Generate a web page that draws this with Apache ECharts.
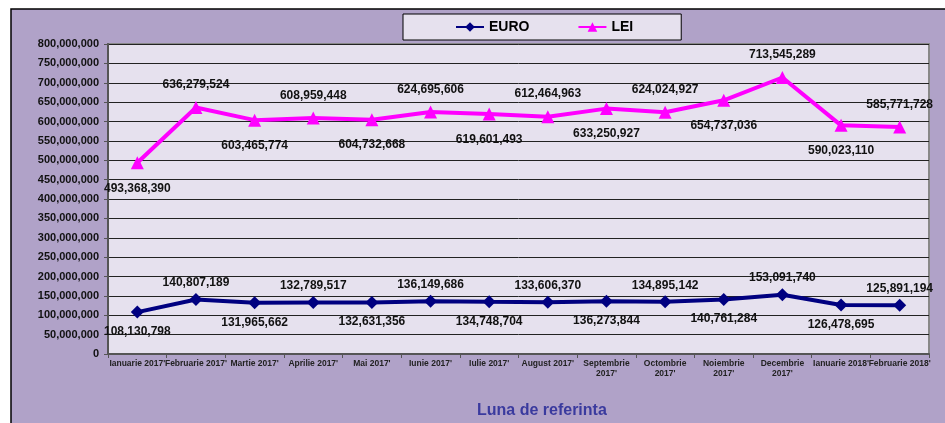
<!DOCTYPE html>
<html>
<head>
<meta charset="utf-8">
<script src="https://cdn.jsdelivr.net/npm/echarts@6/dist/echarts.min.js"></script>
<style>
  html, body { margin: 0; padding: 0; background: #fff; }
  #chart { width: 945px; height: 423px; }
</style>
</head>
<body>
<div id="chart"></div>
<script>
// luna de referinta
var months = ["Ianuarie 2017'", "Februarie 2017'", "Martie 2017'", "Aprilie 2017'", "Mai 2017'",
    "Iunie 2017'", "Iulie 2017'", "August 2017'", "Septembrie\n2017'", "Octombrie\n2017'",
    "Noiembrie\n2017'", "Decembrie\n2017'", "Ianuarie 2018'", "Februarie 2018'"];

var euro = [108130798, 140807189, 131965662, 132789517, 132631356, 136149686, 134748704,
    133606370, 136273844, 134895142, 140761284, 153091740, 126478695, 125891194];

var lei = [493368390, 636279524, 603465774, 608959448, 604732668, 624695606, 619601493,
    612464963, 633250927, 624024927, 654737036, 713545289, 590023110, 585771728];

function fmt(v) {
    return Number(v).toLocaleString('en-US');
}

// etichete alternate: sub punct / deasupra punctului
function withLabels(values, distTop, distBottom) {
    return values.map(function (v, i) {
        var below = i % 2 === 0;
        return {
            value: v,
            label: { position: below ? 'bottom' : 'top', distance: below ? distBottom : distTop }
        };
    });
}

var chart = echarts.init(document.getElementById('chart'));

var labelStyle = {
    show: true,
    color: '#111',
    fontFamily: 'Arial, "Liberation Sans"',
    fontWeight: 'bold',
    fontSize: 12,
    formatter: function (p) { return fmt(p.value); }
};

option = {
    backgroundColor: '#fff',
    animation: false,
    graphic: [{
        type: 'rect',
        z: -10,
        shape: { x: 11, y: 9, width: 940, height: 420 },
        style: { fill: '#B0A2C8', stroke: '#000', lineWidth: 1.5 }
    }, {
        type: 'text',
        left: 477,
        top: 403,
        style: {
            text: 'Luna de referinta',
            fill: '#3A3A9E',
            font: 'bold 16px Arial, "Liberation Sans"'
        }
    }],
    legend: {
        left: 403,
        top: 14,
        padding: [6, 48, 6, 52],
        itemGap: 48,
        itemWidth: 28,
        itemHeight: 12,
        backgroundColor: '#E6E1EE',
        borderColor: '#000',
        borderWidth: 1,
        textStyle: {
            color: '#000',
            fontFamily: 'Arial, "Liberation Sans"',
            fontWeight: 'bold',
            fontSize: 14
        },
        data: ['EURO', 'LEI']
    },
    grid: {
        left: 108,
        right: 16,
        top: 44,
        bottom: 69,
        show: true,
        backgroundColor: '#E6E1EE',
        borderColor: '#888',
        borderWidth: 2
    },
    xAxis: {
        type: 'category',
        data: months,
        boundaryGap: true,
        axisLine: { lineStyle: { color: '#555', width: 2 } },
        axisTick: { show: true, length: 4, lineStyle: { color: '#555' } },
        axisLabel: {
            interval: 0,
            margin: 5,
            color: '#222',
            fontFamily: 'Arial, "Liberation Sans"',
            fontWeight: 'bold',
            fontSize: 8.5,
            lineHeight: 10
        }
    },
    yAxis: {
        type: 'value',
        min: 0,
        max: 800000000,
        interval: 50000000,
        axisLine: { show: true, lineStyle: { color: '#555', width: 2 } },
        axisTick: { show: true, length: 4, lineStyle: { color: '#555' } },
        splitLine: { lineStyle: { color: '#222', width: 1 } },
        axisLabel: {
            margin: 9,
            color: '#111',
            fontFamily: 'Arial, "Liberation Sans"',
            fontWeight: 'bold',
            fontSize: 11,
            formatter: fmt
        }
    },
    series: [{
        name: 'EURO',
        type: 'line',
        data: withLabels(euro, 4, 7),
        symbol: 'diamond',
        symbolSize: 13,
        itemStyle: { color: '#000080' },
        lineStyle: { color: '#000080', width: 4 },
        label: labelStyle
    }, {
        name: 'LEI',
        type: 'line',
        data: withLabels(lei, 10, 13),
        symbol: 'triangle',
        symbolSize: 13,
        itemStyle: { color: '#FF00FF' },
        lineStyle: { color: '#FF00FF', width: 4 },
        label: labelStyle
    }]
};

chart.setOption(option);
</script>
</body>
</html>
